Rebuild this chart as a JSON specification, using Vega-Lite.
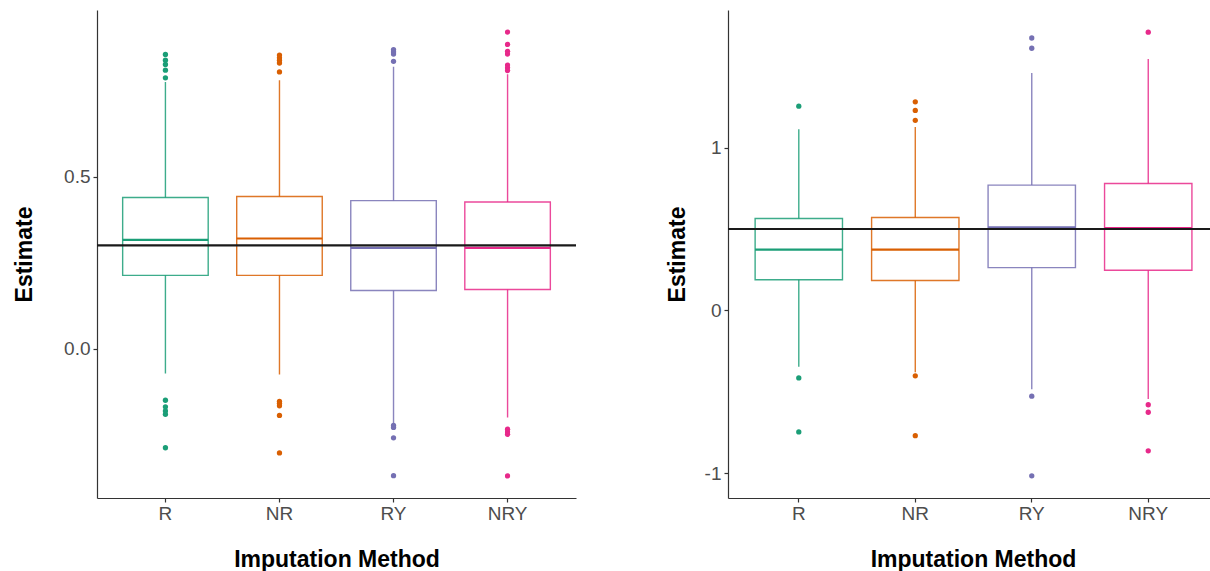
{
  "$schema": "https://vega.github.io/schema/vega-lite/v6.json",
  "padding": {"left": 13, "top": 10, "right": 0, "bottom": 0},
  "datasets": {
    "boxL": [
      {"method": "R", "lower": -0.072, "q1": 0.213, "median": 0.316, "q3": 0.439, "upper": 0.775},
      {"method": "NR", "lower": -0.075, "q1": 0.213, "median": 0.320, "q3": 0.442, "upper": 0.780},
      {"method": "RY", "lower": -0.217, "q1": 0.169, "median": 0.293, "q3": 0.430, "upper": 0.819},
      {"method": "NRY", "lower": -0.200, "q1": 0.172, "median": 0.293, "q3": 0.426, "upper": 0.797}
    ],
    "outL": [
      {"method": "R", "value": 0.855}, {"method": "R", "value": 0.838}, {"method": "R", "value": 0.826}, {"method": "R", "value": 0.809}, {"method": "R", "value": 0.787},
      {"method": "R", "value": -0.150}, {"method": "R", "value": -0.169}, {"method": "R", "value": -0.181}, {"method": "R", "value": -0.191}, {"method": "R", "value": -0.288},
      {"method": "NR", "value": 0.853}, {"method": "NR", "value": 0.845}, {"method": "NR", "value": 0.838}, {"method": "NR", "value": 0.830}, {"method": "NR", "value": 0.804},
      {"method": "NR", "value": -0.153}, {"method": "NR", "value": -0.159}, {"method": "NR", "value": -0.166}, {"method": "NR", "value": -0.194}, {"method": "NR", "value": -0.303},
      {"method": "RY", "value": 0.869}, {"method": "RY", "value": 0.862}, {"method": "RY", "value": 0.856}, {"method": "RY", "value": 0.835},
      {"method": "RY", "value": -0.223}, {"method": "RY", "value": -0.229}, {"method": "RY", "value": -0.259}, {"method": "RY", "value": -0.369},
      {"method": "NRY", "value": 0.920}, {"method": "NRY", "value": 0.884}, {"method": "NRY", "value": 0.864}, {"method": "NRY", "value": 0.856}, {"method": "NRY", "value": 0.824}, {"method": "NRY", "value": 0.816}, {"method": "NRY", "value": 0.808},
      {"method": "NRY", "value": -0.234}, {"method": "NRY", "value": -0.242}, {"method": "NRY", "value": -0.249}, {"method": "NRY", "value": -0.370}
    ],
    "refL": [{"ref": 0.3}],
    "boxR": [
      {"method": "R", "lower": -0.347, "q1": 0.188, "median": 0.374, "q3": 0.565, "upper": 1.113},
      {"method": "NR", "lower": -0.380, "q1": 0.184, "median": 0.374, "q3": 0.571, "upper": 1.127},
      {"method": "RY", "lower": -0.484, "q1": 0.263, "median": 0.510, "q3": 0.770, "upper": 1.459},
      {"method": "NRY", "lower": -0.545, "q1": 0.247, "median": 0.506, "q3": 0.780, "upper": 1.545}
    ],
    "outR": [
      {"method": "R", "value": 1.255}, {"method": "R", "value": -0.415}, {"method": "R", "value": -0.747},
      {"method": "NR", "value": 1.282}, {"method": "NR", "value": 1.229}, {"method": "NR", "value": 1.168}, {"method": "NR", "value": -0.402}, {"method": "NR", "value": -0.770},
      {"method": "RY", "value": 1.674}, {"method": "RY", "value": 1.611}, {"method": "RY", "value": -0.527}, {"method": "RY", "value": -1.017},
      {"method": "NRY", "value": 1.710}, {"method": "NRY", "value": -0.580}, {"method": "NRY", "value": -0.626}, {"method": "NRY", "value": -0.863}
    ],
    "refR": [{"ref": 0.5}]
  },
  "hconcat": [
    {
      "width": 479,
      "height": 488,
      "encoding": {
        "x": {"field": "method", "type": "nominal", "sort": ["R", "NR", "RY", "NRY"],
              "scale": {"type": "band", "paddingInner": 0.25, "paddingOuter": 0.225},
              "axis": {"title": "Imputation Method", "labelAngle": 0, "labelPadding": 2, "titlePadding": 25}}
      },
      "layer": [
        {"data": {"name": "boxL"}, "mark": {"type": "rule", "strokeWidth": 1.4, "opacity": 0.85},
         "encoding": {"y": {"field": "lower", "type": "quantitative", "title": "Estimate",
                            "scale": {"domain": [-0.434, 0.984], "nice": false, "zero": false},
                            "axis": {"values": [0, 0.5], "labelExpr": "format(datum.value, '.1f')", "labelPadding": 3, "titlePadding": 27}},
                      "y2": {"field": "upper"},
                      "color": {"field": "method", "type": "nominal", "scale": {"domain": ["R", "NR", "RY", "NRY"], "range": ["#1B9E77", "#D95F02", "#7570B3", "#E7298A"]}, "legend": null}}},
        {"data": {"name": "boxL"}, "mark": {"type": "bar", "fill": "white", "strokeWidth": 1.4, "strokeOpacity": 0.85},
         "encoding": {"y": {"field": "q1", "type": "quantitative", "title": "Estimate"},
                      "y2": {"field": "q3"},
                      "stroke": {"field": "method", "type": "nominal", "scale": {"domain": ["R", "NR", "RY", "NRY"], "range": ["#1B9E77", "#D95F02", "#7570B3", "#E7298A"]}, "legend": null}}},
        {"data": {"name": "boxL"}, "mark": {"type": "tick", "size": 85.5, "thickness": 2.2, "opacity": 1},
         "encoding": {"y": {"field": "median", "type": "quantitative", "title": "Estimate"},
                      "color": {"field": "method", "type": "nominal", "legend": null}}},
        {"data": {"name": "outL"}, "mark": {"type": "circle", "size": 28, "opacity": 1},
         "encoding": {"y": {"field": "value", "type": "quantitative", "title": "Estimate"},
                      "color": {"field": "method", "type": "nominal", "legend": null}}},
        {"data": {"name": "refL"}, "mark": {"type": "rule", "color": "#1a1a1a", "strokeWidth": 2.2},
         "encoding": {"y": {"field": "ref", "type": "quantitative", "title": "Estimate"}, "x": null}}
      ]
    },
    {
      "width": 482,
      "height": 488,
      "encoding": {
        "x": {"field": "method", "type": "nominal", "sort": ["R", "NR", "RY", "NRY"],
              "scale": {"type": "band", "paddingInner": 0.25, "paddingOuter": 0.194, "align": 0.6},
              "axis": {"title": "Imputation Method", "labelAngle": 0, "labelPadding": 2, "titlePadding": 25, "titleX": 245}}
      },
      "layer": [
        {"data": {"name": "boxR"}, "mark": {"type": "rule", "strokeWidth": 1.4, "opacity": 0.85},
         "encoding": {"y": {"field": "lower", "type": "quantitative", "title": "Estimate",
                            "scale": {"domain": [-1.153, 1.846], "nice": false, "zero": false},
                            "axis": {"values": [-1, 0, 1], "labelExpr": "'' + datum.value", "labelPadding": 3, "titlePadding": 15}},
                      "y2": {"field": "upper"},
                      "color": {"field": "method", "type": "nominal", "scale": {"domain": ["R", "NR", "RY", "NRY"], "range": ["#1B9E77", "#D95F02", "#7570B3", "#E7298A"]}, "legend": null}}},
        {"data": {"name": "boxR"}, "mark": {"type": "bar", "fill": "white", "strokeWidth": 1.4, "strokeOpacity": 0.85},
         "encoding": {"y": {"field": "q1", "type": "quantitative", "title": "Estimate"},
                      "y2": {"field": "q3"},
                      "stroke": {"field": "method", "type": "nominal", "scale": {"domain": ["R", "NR", "RY", "NRY"], "range": ["#1B9E77", "#D95F02", "#7570B3", "#E7298A"]}, "legend": null}}},
        {"data": {"name": "boxR"}, "mark": {"type": "tick", "size": 87.4, "thickness": 2.2, "opacity": 1},
         "encoding": {"y": {"field": "median", "type": "quantitative", "title": "Estimate"},
                      "color": {"field": "method", "type": "nominal", "legend": null}}},
        {"data": {"name": "outR"}, "mark": {"type": "circle", "size": 28, "opacity": 1},
         "encoding": {"y": {"field": "value", "type": "quantitative", "title": "Estimate"},
                      "color": {"field": "method", "type": "nominal", "legend": null}}},
        {"data": {"name": "refR"}, "mark": {"type": "rule", "color": "#1a1a1a", "strokeWidth": 2.2},
         "encoding": {"y": {"field": "ref", "type": "quantitative", "title": "Estimate"}, "x": null}}
      ]
    }
  ],
  "resolve": {"scale": {"y": "independent", "x": "independent"}},
  "config": {
    "view": {"stroke": null},
    "concat": {"spacing": 88},
    "axis": {
      "grid": false,
      "domainColor": "#333333",
      "domainWidth": 1.2,
      "tickColor": "#333333",
      "tickWidth": 1.2,
      "tickSize": 4,
      "labelFont": "Liberation Sans",
      "labelFontSize": 19,
      "labelColor": "#4d4d4d",
      "titleFont": "Liberation Sans",
      "titleFontSize": 23,
      "titleFontWeight": "bold",
      "titleColor": "#000000"
    }
  }
}
